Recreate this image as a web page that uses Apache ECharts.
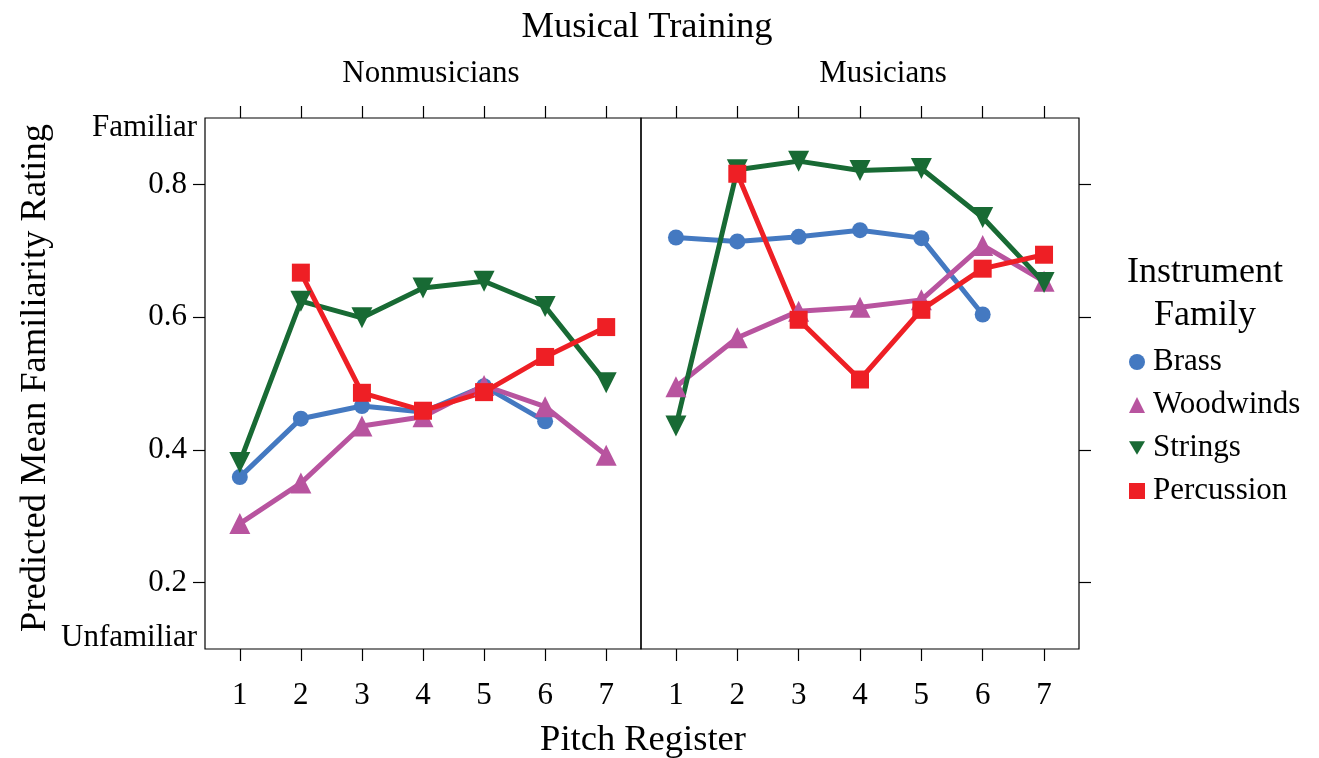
<!DOCTYPE html>
<html><head><meta charset="utf-8">
<script src="https://cdn.jsdelivr.net/npm/echarts@6/dist/echarts.min.js"></script>
<style>html,body{margin:0;padding:0;background:#fff}#c{width:1319px;height:758px}</style>
</head><body><div id="c"></div>
<script>
const pitch = [1, 2, 3, 4, 5, 6, 7];
const yTickValues = [0.2, 0.4, 0.6, 0.8];
const families = ['Brass', 'Woodwinds', 'Strings', 'Percussion'];
const panels = ['Nonmusicians', 'Musicians'];
// Nonmusicians
const nonBrass      = [0.359, 0.447, 0.466, 0.457, 0.496, 0.443, null];
const nonWoodwinds  = [0.289, 0.350, 0.436, 0.450, 0.497, 0.465, 0.392];
const nonStrings    = [0.381, 0.624, 0.599, 0.644, 0.654, 0.616, 0.501];
const nonPercussion = [null, 0.667, 0.486, 0.459, 0.487, 0.540, 0.585];
// Musicians
const musBrass      = [0.720, 0.714, 0.721, 0.731, 0.719, 0.604, null];
const musWoodwinds  = [0.495, 0.569, 0.609, 0.615, 0.626, 0.708, 0.654];
const musStrings    = [0.436, 0.822, 0.835, 0.821, 0.824, 0.750, 0.652];
const musPercussion = [null, 0.816, 0.596, 0.506, 0.611, 0.673, 0.694];

const colors = {Brass:'#4479c1', Woodwinds:'#b8549f', Strings:'#186a34', Percussion:'#ee1f25'};
const symbols = {Brass:['circle',16,0], Woodwinds:['triangle',21,0], Strings:['triangle',21,180], Percussion:['rect',18,0]};
const FONT = 'Liberation Serif';

function pts(arr){ return pitch.map((p,i)=>[p, arr[i]]).filter(d=>d[1]!==null); }

const panelData = [
  {Brass:nonBrass, Woodwinds:nonWoodwinds, Strings:nonStrings, Percussion:nonPercussion},
  {Brass:musBrass, Woodwinds:musWoodwinds, Strings:musStrings, Percussion:musPercussion}
];

const series = [];
panelData.forEach((pd, k)=>{
  families.forEach(f=>{
    series.push({
      type:'line', name:f, xAxisIndex:k*2, yAxisIndex:k===0?0:1,
      data: pts(pd[f]),
      symbol: symbols[f][0], symbolSize: symbols[f][1], symbolRotate: symbols[f][2],
      showAllSymbol:true,
      lineStyle:{color:colors[f], width:5},
      itemStyle:{color:colors[f]},
      emphasis:{disabled:true}, animation:false, z: 2
    });
  });
});

const xMin = 0.43, xMax = 7.57;
function xBottom(g){ return {type:'value', gridIndex:g, position:'bottom', min:xMin, max:xMax,
  axisLine:{show:false}, splitLine:{show:false},
  axisTick:{show:true, customValues:pitch, length:12, lineStyle:{color:'#000', width:1.2}},
  axisLabel:{show:true, customValues:pitch, margin:31, color:'#000', fontFamily:FONT, fontSize:31}}; }
function xTop(g){ return {type:'value', gridIndex:g, position:'top', min:xMin, max:xMax,
  axisLine:{show:false}, splitLine:{show:false},
  axisTick:{show:true, customValues:pitch, length:12, lineStyle:{color:'#000', width:1.2}},
  axisLabel:{show:false}}; }

const option = {
  backgroundColor:'#fff',
  animation:false,
  grid:[
    {left:205, top:118, width:436, height:531, show:true, borderColor:'#000', borderWidth:1.2, containLabel:false},
    {left:641, top:118, width:438, height:531, show:true, borderColor:'#000', borderWidth:1.2, containLabel:false}
  ],
  xAxis:[xBottom(0), xTop(0), xBottom(1), xTop(1)],
  yAxis:[
    {type:'value', gridIndex:0, position:'left', min:0.1, max:0.9,
      axisLine:{show:false}, splitLine:{show:false},
      axisTick:{show:true, customValues:yTickValues, length:12, lineStyle:{color:'#000', width:1.2}},
      axisLabel:{show:true, customValues:[0.1,0.2,0.4,0.6,0.8,0.9], margin:8, color:'#000', fontFamily:FONT, fontSize:31,
        formatter:function(v){
          if (Math.abs(v-0.9)<1e-6) return '{top|Familiar}';
          if (Math.abs(v-0.1)<1e-6) return '{bot|Unfamiliar}';
          return '{n|'+v.toFixed(1)+'}';
        },
        rich:{
          top:{fontFamily:FONT, fontSize:31, color:'#000', padding:[20,0,0,0]},
          bot:{fontFamily:FONT, fontSize:31, color:'#000', padding:[0,0,22,0]},
          n:{fontFamily:FONT, fontSize:31, color:'#000', padding:[0,10,0,0]}
        }}},
    {type:'value', gridIndex:1, position:'left', min:0.1, max:0.9,
      axisLine:{show:false}, splitLine:{show:false}, axisTick:{show:false}, axisLabel:{show:false}},
    {type:'value', gridIndex:1, position:'right', min:0.1, max:0.9,
      axisLine:{show:false}, splitLine:{show:false},
      axisTick:{show:true, customValues:yTickValues, length:12, lineStyle:{color:'#000', width:1.2}},
      axisLabel:{show:false}}
  ],
  legend:{
    orient:'vertical', left:1129, top:346, padding:0, itemWidth:16, itemHeight:16, itemGap:11,
    textStyle:{fontFamily:FONT, fontSize:31, color:'#000', lineHeight:32, padding:[0,0,0,3]},
    selectedMode:false,
    data:[
      {name:'Brass', icon:'circle'},
      {name:'Woodwinds', icon:'triangle'},
      {name:'Strings', icon:'path://M0,0 L10,0 L5,8.5 Z'},
      {name:'Percussion', icon:'rect'}
    ]
  },
  graphic:[
    {type:'text', x:647, y:27, style:{text:'Musical Training', font:'36.5px "Liberation Serif"', fill:'#000', textAlign:'center', textVerticalAlign:'middle'}},
    {type:'text', x:431, y:74, style:{text:panels[0], font:'31px "Liberation Serif"', fill:'#000', textAlign:'center', textVerticalAlign:'middle'}},
    {type:'text', x:883, y:74, style:{text:panels[1], font:'31px "Liberation Serif"', fill:'#000', textAlign:'center', textVerticalAlign:'middle'}},
    {type:'text', x:643, y:740, style:{text:'Pitch Register', font:'36.5px "Liberation Serif"', fill:'#000', textAlign:'center', textVerticalAlign:'middle'}},
    {type:'text', x:35, y:378, rotation:Math.PI/2, style:{text:'Predicted Mean Familiarity Rating', font:'36.5px "Liberation Serif"', fill:'#000', textAlign:'center', textVerticalAlign:'middle'}},
    {type:'text', x:1205, y:294, style:{text:'Instrument\nFamily', font:'36px "Liberation Serif"', lineHeight:43, fill:'#000', textAlign:'center', textVerticalAlign:'middle'}}
  ],
  series: series
};
const chart = echarts.init(document.getElementById('c'), null, {renderer:'canvas'});
chart.setOption(option);
</script>
</body></html>
